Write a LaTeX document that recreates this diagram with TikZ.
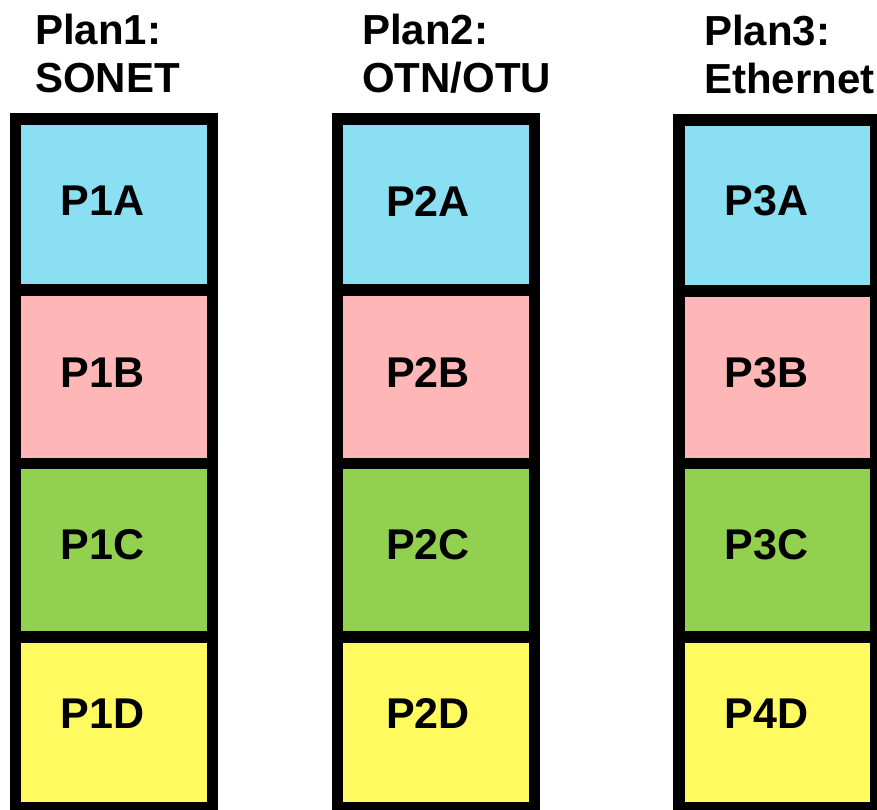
\documentclass[tikz,border=0pt]{standalone}
\usepackage{fontspec}
\setmainfont{Liberation Sans}
\definecolor{cyanA}{RGB}{139,223,243}
\definecolor{pinkB}{RGB}{254,182,182}
\definecolor{greenC}{RGB}{146,208,80}
\definecolor{yellowD}{RGB}{255,250,96}
\tikzset{
  cell/.style={draw=black, line width=11.5pt, inner sep=0pt, outer sep=0pt, minimum width=197pt},
  rowA/.style={cell, fill=cyanA, minimum height=171pt},
  rowB/.style={cell, fill=pinkB, minimum height=173.5pt},
  rowC/.style={cell, fill=greenC, minimum height=173.5pt},
  rowD/.style={cell, fill=yellowD, minimum height=171pt},
  celltext/.style={inner sep=0pt, font=\fontsize{43}{43}\selectfont\bfseries},
  headtext/.style={inner sep=0pt, anchor=base west, font=\fontsize{42}{48}\selectfont\bfseries}
}
\begin{document}
\begin{tikzpicture}[x=1pt,y=-1pt]
\useasboundingbox (0,0) rectangle (877,810);
% headers
\node[headtext] (h1a) at (35,45) {Plan1:};
\node[headtext] (h1b) at (35,93) {SONET};
\node[headtext] (h2a) at (362,45) {Plan2:};
\node[headtext] (h2b) at (362,93) {OTN/OTU};
\node[headtext] (h3a) at (704,46) {Plan3:};
\node[headtext] (h3b) at (704,94) {Ethernet};
% column 1
\node[rowA] (b1a) at (113.75,204.5) {};
\node[rowB] (b1b) at (113.75,376.75) {};
\node[rowC] (b1c) at (113.75,550.25) {};
\node[rowD] (b1d) at (113.75,722.5) {};
% column 2
\node[rowA] (b2a) at (436,204.5) {};
\node[rowB] (b2b) at (436,376.75) {};
\node[rowC] (b2c) at (436,550.25) {};
\node[rowD] (b2d) at (436,722.5) {};
% column 3
\node[rowA] (b3a) at (777.5,205.5) {};
\node[rowB] (b3b) at (777.5,378) {};
\node[rowC] (b3c) at (777.5,550.25) {};
\node[rowD] (b3d) at (777.5,722.5) {};
% labels
\node[celltext] (t1a) at ([xshift=-11pt,yshift=3.5pt]b1a.center) {P1A};
\node[celltext] (t1b) at ([xshift=-11pt,yshift=4pt]b1b.center) {P1B};
\node[celltext] (t1c) at ([xshift=-11pt,yshift=6pt]b1c.center) {P1C};
\node[celltext] (t1d) at ([xshift=-11pt,yshift=9pt]b1d.center) {P1D};
\node[celltext] (t2a) at ([xshift=-8pt,yshift=3.5pt]b2a.center) {P2A};
\node[celltext] (t2b) at ([xshift=-8pt,yshift=4pt]b2b.center) {P2B};
\node[celltext] (t2c) at ([xshift=-8pt,yshift=6pt]b2c.center) {P2C};
\node[celltext] (t2d) at ([xshift=-8pt,yshift=9pt]b2d.center) {P2D};
\node[celltext] (t3a) at ([xshift=-11pt,yshift=4.5pt]b3a.center) {P3A};
\node[celltext] (t3b) at ([xshift=-11pt,yshift=5pt]b3b.center) {P3B};
\node[celltext] (t3c) at ([xshift=-11pt,yshift=6pt]b3c.center) {P3C};
\node[celltext] (t3d) at ([xshift=-11pt,yshift=9pt]b3d.center) {P4D};
\end{tikzpicture}
\end{document}
